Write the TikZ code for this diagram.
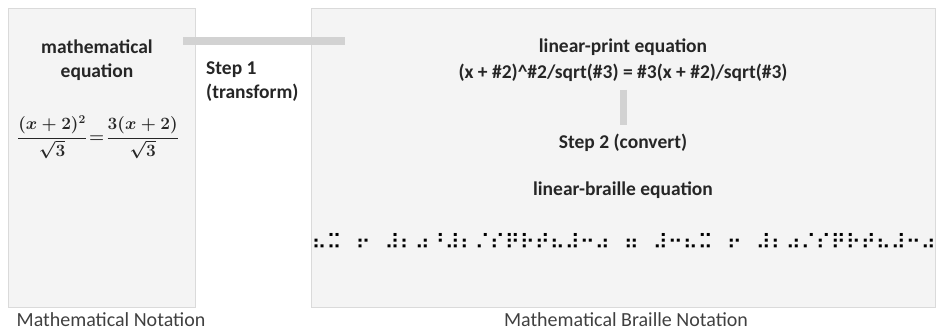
\documentclass[tikz,border=0pt]{standalone}
\usepackage{amsmath}
\usepackage{fontspec}
\setmainfont{Carlito}
\newfontfamily\braillefont{DejaVu Sans}
\usetikzlibrary{positioning}
\definecolor{panelfill}{HTML}{F4F4F4}
\definecolor{panelline}{HTML}{DADADA}
\definecolor{barcol}{HTML}{D2D2D2}
\definecolor{labtext}{HTML}{262626}
\definecolor{captext}{HTML}{404040}
\newcommand{\bgap}{\hspace{14pt}}

\begin{document}
\begin{tikzpicture}[
  x=1pt,y=1pt,
  panel/.style={draw=panelline,line width=1.2pt,fill=panelfill,anchor=north west,inner sep=0pt},
  lab/.style={font=\fontsize{19.5}{24}\selectfont\bfseries,text=labtext,align=center,inner sep=1pt},
  captiontext/.style={font=\fontsize{20}{24}\selectfont,text=captext,inner sep=0pt},
  bar/.style={line width=8pt,draw=barcol}
]
\useasboundingbox (0,0) rectangle (940,-331);

% the two notation panels
\node[panel,minimum width=187pt,minimum height=299pt] (mathpanel) at (8,-8) {};
\node[panel,minimum width=624pt,minimum height=299pt] (braillepanel) at (311,-8) {};

\draw[bar] ([xshift=-13pt,yshift=-33pt]mathpanel.north east) -- ([xshift=34pt,yshift=-33pt]braillepanel.north west);

% left panel
\node[lab] (matheq) at (97,-60) {mathematical\\equation};
\node[font=\fontsize{18}{22}\selectfont\boldmath,text=labtext,inner sep=0pt] (mathfrac) at (98,-137)
     {$\dfrac{(x+2)^2}{\sqrt{3}}\!=\!\dfrac{3(x+2)}{\sqrt{3}}$};
\node[lab,align=left,anchor=west] (stepone) at (205,-82) {Step 1\\(transform)};

% right panel
\node[lab] (lptitle) at (623,-47) {linear-print equation};
\node[lab] (lpform) at (623,-73) {(x + \#2)\^{}\#2/sqrt(\#3) = \#3(x + \#2)/sqrt(\#3)};
\node[lab] (steptwo) at (623,-143) {Step 2 (convert)};
\node[lab] (lbtitle) at (623,-190) {linear-braille equation};
\node[font=\braillefont\fontsize{20.5}{24}\selectfont,text=black,inner sep=0pt] (braille) at (624,-241)
     {⠦⠭\bgap⠖\bgap⠼⠆⠴⠘⠼⠆⠌⠎⠟⠗⠞⠦⠼⠒⠴\bgap⠶\bgap⠼⠒⠦⠭\bgap⠖\bgap⠼⠆⠴⠌⠎⠟⠗⠞⠦⠼⠒⠴};

\draw[bar,line width=7pt] ([yshift=-7pt]lpform.south) -- ([yshift=8pt]steptwo.north);

% captions
\node[captiontext] (mathcap) at (111,-320) {Mathematical Notation};
\node[captiontext] (braillecap) at (626,-320) {Mathematical Braille Notation};
\end{tikzpicture}
\end{document}
